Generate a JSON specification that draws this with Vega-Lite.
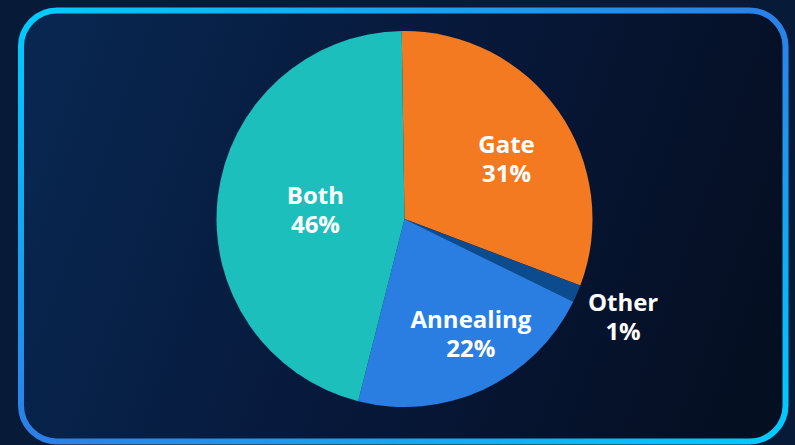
{
  "$schema": "https://vega.github.io/schema/vega-lite/v6.json",
  "width": 764.5,
  "height": 431,
  "autosize": {"type": "none"},
  "padding": {"left": 21, "top": 10.5, "right": 9.5, "bottom": 3.5},
  "background": "#071a38",
  "view": {
    "cornerRadius": 36,
    "strokeWidth": 6,
    "stroke": {"gradient": "linear", "x1": 0, "y1": 0, "x2": 1, "y2": 1,
      "stops": [{"offset": 0, "color": "#00cdff"}, {"offset": 0.5, "color": "#2c7fe6"}, {"offset": 1, "color": "#00cdff"}]},
    "fill": {"gradient": "linear", "x1": 0, "y1": 0.4, "x2": 1, "y2": 0.6,
      "stops": [{"offset": 0, "color": "#08264f"}, {"offset": 0.5, "color": "#07183a"}, {"offset": 1, "color": "#050f22"}]}
  },
  "data": {
    "values": [
      {"category": "Gate", "value": 31.0, "rank": 1, "label": "Gate\n31%"},
      {"category": "Other", "value": 1.5, "rank": 2, "label": "Other\n1%"},
      {"category": "Annealing", "value": 21.7, "rank": 3, "label": "Annealing\n22%"},
      {"category": "Both", "value": 45.8, "rank": 4, "label": "Both\n46%"}
    ]
  },
  "encoding": {
    "theta": {"field": "value", "type": "quantitative", "stack": true, "scale": {"range": [-0.0148, 6.2684]}},
    "order": {"field": "rank", "type": "quantitative"}
  },
  "layer": [
    {
      "mark": {"type": "arc", "outerRadius": 188, "xOffset": 1.25, "yOffset": -7},
      "encoding": {
        "color": {"field": "category", "type": "nominal", "legend": null,
          "scale": {"domain": ["Gate", "Other", "Annealing", "Both"], "range": ["#f47a21", "#0d4b8f", "#2b7ee1", "#1cbfbc"]}}
      }
    },
    {
      "mark": {"type": "text", "radius": 118.6, "thetaOffset": 0.076, "xOffset": 1.25, "yOffset": -19.5, "font": "Open Sans", "fontWeight": "bold", "fontSize": 24, "lineHeight": 29, "lineBreak": "\n", "color": "white", "align": "center", "baseline": "middle"},
      "encoding": {"text": {"condition": {"test": "datum.category === 'Gate'", "field": "label"}, "value": ""}}
    },
    {
      "mark": {"type": "text", "radius": 239.3, "thetaOffset": 0.01, "xOffset": 1.25, "yOffset": -19.5, "font": "Open Sans", "fontWeight": "bold", "fontSize": 24, "lineHeight": 29, "lineBreak": "\n", "color": "white", "align": "center", "baseline": "middle"},
      "encoding": {"text": {"condition": {"test": "datum.category === 'Other'", "field": "label"}, "value": ""}}
    },
    {
      "mark": {"type": "text", "radius": 132.8, "thetaOffset": -0.091, "xOffset": 1.25, "yOffset": -20, "font": "Open Sans", "fontWeight": "bold", "fontSize": 24, "lineHeight": 29, "lineBreak": "\n", "color": "white", "align": "center", "baseline": "middle"},
      "encoding": {"text": {"condition": {"test": "datum.category === 'Annealing'", "field": "label"}, "value": ""}}
    },
    {
      "mark": {"type": "text", "radius": 89.5, "thetaOffset": -0.016, "xOffset": 1.25, "yOffset": -19.5, "font": "Open Sans", "fontWeight": "bold", "fontSize": 24, "lineHeight": 29, "lineBreak": "\n", "color": "white", "align": "center", "baseline": "middle"},
      "encoding": {"text": {"condition": {"test": "datum.category === 'Both'", "field": "label"}, "value": ""}}
    }
  ]
}
